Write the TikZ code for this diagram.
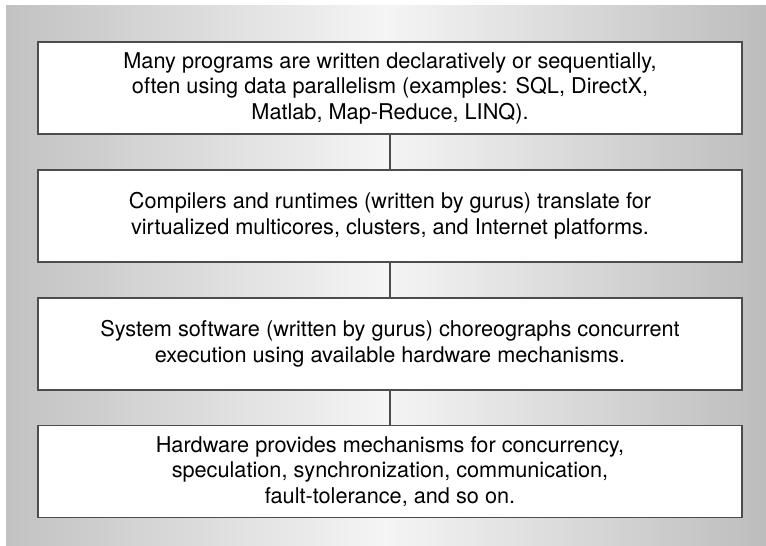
\documentclass[tikz,border=0pt]{standalone}
\usepackage{fontspec}
\setmainfont{TeX Gyre Heros}
\begin{document}
\begin{tikzpicture}[x=1pt,y=-1pt,
  layerbox/.style={draw=black!70, line width=1.3pt, fill=white,
    minimum width=704pt, minimum height=92pt, inner sep=0pt,
    align=center, font=\fontsize{21.7}{25.5}\selectfont},
  link/.style={draw=black!70, line width=1.3pt}]
\useasboundingbox (0,0) rectangle (766,546);
\fill[white] (0,0) rectangle (766,546);
\shade[left color=black!24, right color=black!26, middle color=black!4] (6,5) rectangle (766,546);
\node[layerbox] (b1) at (390,88) {Many programs are written declaratively or sequentially,\\often using data parallelism (examples: SQL, DirectX,\\Matlab, Map-Reduce, LINQ).};
\node[layerbox] (b2) at (390,216) {Compilers and runtimes (written by gurus) translate for\\virtualized multicores, clusters, and Internet platforms.};
\node[layerbox] (b3) at (390,344) {System software (written by gurus) choreographs concurrent\\execution using available hardware mechanisms.};
\node[layerbox] (b4) at (390,471.5) {Hardware provides mechanisms for concurrency,\\speculation, synchronization, communication,\\fault-tolerance, and so on.};
\draw[link] (b1.south) -- (b2.north);
\draw[link] (b2.south) -- (b3.north);
\draw[link] (b3.south) -- (b4.north);
\end{tikzpicture}
\end{document}
